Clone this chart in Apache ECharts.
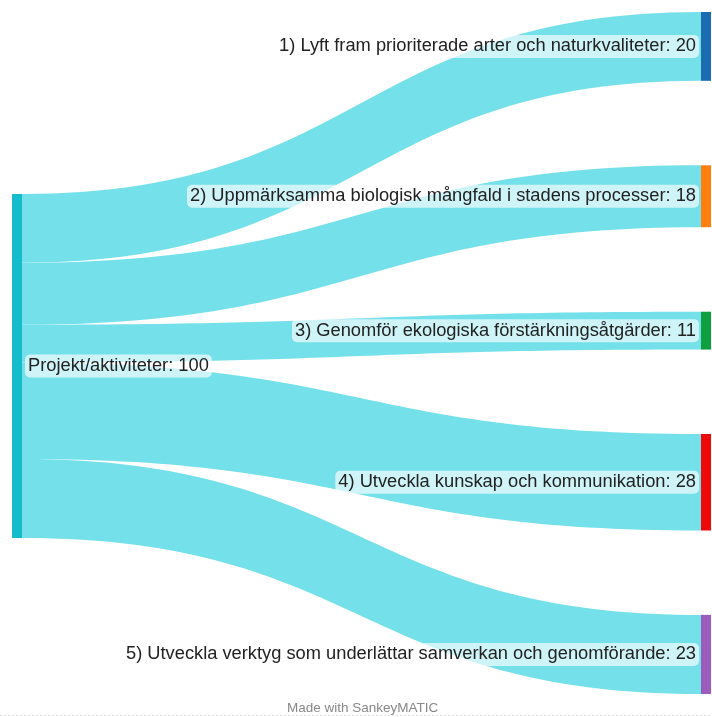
<!DOCTYPE html>
<html>
<head>
<meta charset="utf-8">
<script src="https://cdn.jsdelivr.net/npm/echarts@6/dist/echarts.min.js"></script>
<style>
html,body{margin:0;padding:0;background:#fff;}
#chart{width:712px;height:717px;}
</style>
</head>
<body>
<div id="chart"></div>
<script>
const sourceName = 'Projekt/aktiviteter';
const targetNames = [
  '1) Lyft fram prioriterade arter och naturkvaliteter',
  '2) Uppmärksamma biologisk mångfald i stadens processer',
  '3) Genomför ekologiska förstärkningsåtgärder',
  '4) Utveckla kunskap och kommunikation',
  '5) Utveckla verktyg som underlättar samverkan och genomförande'
];
const targetValues = [20, 18, 11, 28, 23];
const sourceColor = '#14bccc';
const targetColors = ['#1b6db0', '#ff7f0e', '#0ea040', '#ee0a0a', '#9b5cbb'];
const linkColor = '#74e0ea';

const chart = echarts.init(document.getElementById('chart'));

const nodes = [{
  name: sourceName,
  localX: 0,
  localY: 182 / 682,
  itemStyle: { color: sourceColor },
  label: { position: 'right', distance: 3 }
}].concat(targetNames.map((n, i) => ({
  name: n,
  itemStyle: { color: targetColors[i] },
  label: { position: 'left', distance: 2 }
})));

const links = targetNames.map((n, i) => ({
  source: sourceName,
  target: n,
  value: targetValues[i]
}));

chart.setOption({
  backgroundColor: '#fff',
  animation: false,
  series: [{
    type: 'sankey',
    left: 12,
    right: 1,
    top: 12,
    bottom: 23,
    nodeWidth: 10,
    nodeGap: 84.5,
    layoutIterations: 0,
    draggable: false,
    nodeAlign: 'justify',
    emphasis: { disabled: true },
    data: nodes,
    links: links,
    itemStyle: { borderWidth: 0 },
    lineStyle: { color: linkColor, opacity: 1, curveness: 0.5 },
    label: {
      show: true,
      fontFamily: 'Liberation Sans, Arial, sans-serif',
      fontSize: 18.3,
      color: '#222',
      backgroundColor: 'rgba(255,255,255,0.65)',
      borderRadius: 5,
      padding: [3, 3, 2, 3],
      formatter: p => p.name + ': ' + p.value
    }
  }],
  graphic: [
    {
      type: 'text',
      left: 287,
      top: 701,
      style: {
        text: 'Made with SankeyMATIC',
        fill: '#888',
        font: '13.5px Liberation Sans, Arial, sans-serif'
      }
    },
    {
      type: 'line',
      shape: { x1: 0, y1: 715.5, x2: 712, y2: 715.5 },
      style: { stroke: '#e4e4e4', lineWidth: 1, lineDash: [2, 2] }
    }
  ]
});
</script>
</body>
</html>
